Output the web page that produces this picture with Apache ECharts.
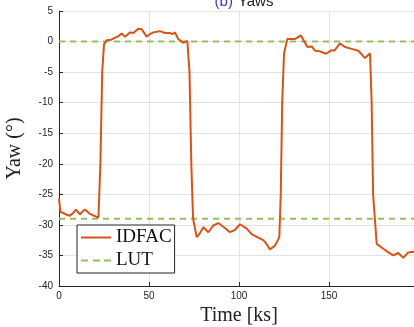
<!DOCTYPE html>
<html>
<head>
<meta charset="utf-8">
<script src="https://cdn.jsdelivr.net/npm/echarts@6/dist/echarts.min.js"></script>
<style>html,body{margin:0;padding:0;background:#fff;}#c{width:414px;height:327px;}</style>
</head>
<body>
<div id="c"></div>
<script>
var idfacTime = [0,0.8,2,4,6,8,9.4,11.7,13,14.4,16,17.2,19.5,21.9,23,24,25,26.5,29,31,33,34.8,36.7,39.4,41.3,44,46,48.7,50.5,52.4,56,58.9,60,61.7,63,64.4,66.3,69,71.3,72.5,73.5,74.5,76.5,78,80.2,83,85.7,88.5,91.3,95,97.8,100.6,104.3,107,110.7,113.5,115,117.2,120,122.4,123.2,124,125,126.8,131,134.4,138,140.4,142.2,145,148.3,151.5,153,156.1,158.9,162.6,166.3,170,172.8,173.7,174.5,176.5,180.2,183,185.7,188.5,191.3,194,196.9,200];
var idfacYaw = [-25.7,-27.9,-28.0,-28.3,-28.5,-28.0,-27.5,-28.3,-27.8,-27.5,-27.9,-28.2,-28.5,-28.8,-20,-5,-0.5,0.2,0.3,0.6,0.9,1.3,0.8,1.5,1.4,2.1,2.0,0.8,1.2,1.5,1.7,1.4,1.6,1.4,1.2,1.5,0.4,-0.2,0.1,-5,-20,-29,-32.0,-31.5,-30.4,-31.2,-30.1,-29.7,-30.3,-31.2,-30.8,-29.9,-30.6,-31.5,-32.1,-32.5,-33.0,-34.0,-33.4,-32.0,-25,-10,-2,0.4,0.4,1.0,-0.9,-0.8,-1.5,-1.6,-2.0,-1.4,-1.5,-0.3,-0.9,-1.2,-1.5,-2.7,-1.9,-10,-25,-33.1,-33.9,-34.5,-35.0,-34.6,-35.4,-34.5,-34.4,-34.6];
var lutLevels = [0, -29];
var lutRange = [0, 200];

var idfacData = idfacTime.map(function(t, i){ return [t, idfacYaw[i]]; });
var lutData = [];
lutLevels.forEach(function(v, i){
  if (i > 0) lutData.push(['-', '-']);
  lutData.push([lutRange[0], v]);
  lutData.push([lutRange[1], v]);
});

var chart = echarts.init(document.getElementById('c'), null, {renderer: 'canvas'});
var axisColor = '#262626';
chart.setOption({
  animation: false,
  backgroundColor: '#fff',
  title: {
    text: '{b|(b)} {n|Yaws}',
    left: 239, textAlign: 'center', top: -12,
    textStyle: { fontWeight: 'normal', rich: {
      b: { color: '#3a3ad0', fontSize: 15, fontFamily: 'Liberation Sans', fontWeight: 'normal' },
      n: { color: '#222', fontSize: 15, fontFamily: 'Liberation Sans', fontWeight: 'normal' }
    }}
  },
  grid: { left: 59, top: 11, right: -5, bottom: 41, outerBoundsMode: 'none', containLabel: false },
  legend: {
    orient: 'vertical', left: 77, top: 225,
    backgroundColor: '#fff', borderColor: '#222', borderWidth: 1, borderRadius: 0,
    padding: [3, 3, 3, 4], itemGap: 4, itemWidth: 30, itemHeight: 2,
    symbolKeepAspect: false,
    textStyle: { fontFamily: 'Liberation Serif', fontSize: 19, color: '#111' },
    data: [
      { name: 'IDFAC', icon: 'path://M0,0H30V2H0Z', itemStyle: { color: '#D95319' } },
      { name: 'LUT', icon: 'path://M0,0h7v2h-7z M12,0h7v2h-7z M23,0h7v2h-7z', itemStyle: { color: '#94c060' } }
    ]
  },
  xAxis: {
    type: 'value', min: 0, max: 200, interval: 50,
    name: 'Time [ks]', nameLocation: 'middle', nameGap: 15,
    nameTextStyle: { fontFamily: 'Liberation Serif', fontSize: 20, color: '#222' },
    axisLine: { show: true, onZero: false, lineStyle: { color: axisColor, width: 1 } },
    axisTick: { show: true, inside: true, length: 4, lineStyle: { color: axisColor } },
    axisLabel: { color: axisColor, fontSize: 10, fontFamily: 'Liberation Sans', margin: 5, showMaxLabel: false },
    splitLine: { show: true, lineStyle: { color: '#e3e3e3', width: 1 } }
  },
  yAxis: {
    type: 'value', min: -40, max: 5, interval: 5,
    name: 'Yaw (°)', nameLocation: 'middle', nameGap: 34, nameRotate: 90,
    nameTextStyle: { fontFamily: 'Liberation Serif', fontSize: 20, color: '#222' },
    axisLine: { show: true, onZero: false, lineStyle: { color: axisColor, width: 1 } },
    axisTick: { show: true, inside: true, length: 4, lineStyle: { color: axisColor } },
    axisLabel: { color: axisColor, fontSize: 10, fontFamily: 'Liberation Sans', margin: 6 },
    splitLine: { show: true, lineStyle: { color: '#e3e3e3', width: 1 } }
  },
  series: [
    {
      name: 'IDFAC', type: 'line', data: idfacData, showSymbol: false, symbol: 'none',
      lineStyle: { color: '#D95319', width: 2 }, itemStyle: { color: '#D95319' }, z: 3
    },
    {
      name: 'LUT', type: 'line', data: lutData, showSymbol: false, symbol: 'none', connectNulls: false,
      lineStyle: { color: '#94c060', width: 2, type: [6, 5] }, itemStyle: { color: '#94c060' }, z: 2
    }
  ]
});
</script>
</body>
</html>
